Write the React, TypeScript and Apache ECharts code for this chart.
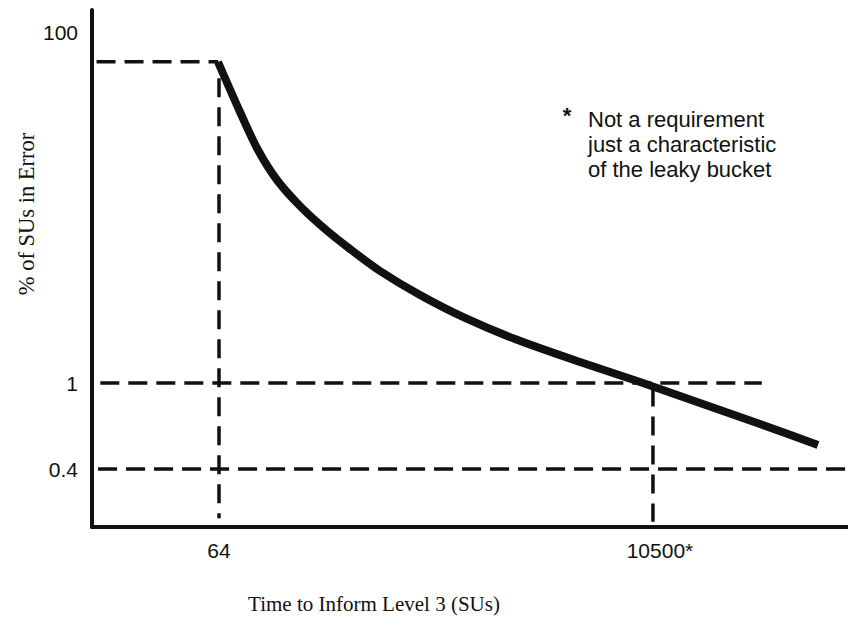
import React, { useEffect, useRef } from "react";
import * as echarts from "echarts";

// Schematic chart: both axes use a 0–100 position scale (share of the axis length)
const xTickPos = [16.8, 74.2];
const xTickLabels = ["64", "10500*"];
const yTickPos = [95.7, 27.85, 11.2];
const yTickLabels = ["100", "1", "0.4"];

// Leaky-bucket curve (position along axes)
const curveX = [16.67, 19.58, 21.96, 24.47, 27.51, 30.82, 34.13, 38.1, 43.39, 49.34, 55.95, 64.55, 72.49, 80.42, 88.36, 96.03];
const curveY = [89.94, 80.27, 72.92, 67.12, 62.09, 57.64, 53.77, 49.52, 44.87, 40.43, 36.36, 31.91, 28.05, 23.98, 19.92, 15.86];

// Dashed reference lines
const topDashX = [0.6, 16.7];
const topDashY = [90.0, 90.0];
const vDash64X = [16.8, 16.8];
const vDash64Y = [86.8, 1.7];
const hDash1X = [1.1, 88.6];
const hDash1Y = [27.85, 27.85];
const vDash10500X = [74.2, 74.2];
const vDash10500Y = [27.0, 1.0];
const hDash04X = [0.8, 100];
const hDash04Y = [11.2, 11.2];

const noteLines = ["Not a requirement", "just a characteristic", "of the leaky bucket"];

const INK = "#111";
const SANS = "'Liberation Sans', Arial, Helvetica, sans-serif";
const SERIF = "'Liberation Serif', 'Times New Roman', serif";

const pair = (xs: number[], ys: number[]) => xs.map((x, i) => [x, ys[i]]);

function labelFor(pos: number[], labels: string[], v: number) {
  let best = 0;
  let d = Infinity;
  pos.forEach((p, i) => {
    if (Math.abs(p - v) < d) {
      d = Math.abs(p - v);
      best = i;
    }
  });
  return labels[best];
}

const dashed = (xs: number[], ys: number[], dash: number[]) => ({
  type: "line",
  data: pair(xs, ys),
  showSymbol: false,
  symbol: "none",
  silent: true,
  lineStyle: { color: INK, width: 3.5, type: dash, cap: "butt" },
});

export default function App() {
  const ref = useRef<HTMLDivElement>(null);

  useEffect(() => {
    if (!ref.current) return;
    const chart = echarts.init(ref.current, undefined, { renderer: "svg" });
    chart.setOption({
      animation: false,
      backgroundColor: "#fff",
      grid: { left: 92, right: 0, top: 10, bottom: 94, containLabel: false, outerBoundsMode: "none" },
      xAxis: {
        type: "value",
        min: 0,
        max: 100,
        splitLine: { show: false },
        axisTick: { show: false },
        axisLine: { show: true, onZero: false, lineStyle: { color: INK, width: 4 } },
        axisLabel: {
          customValues: xTickPos,
          margin: 13,
          color: INK,
          fontFamily: SANS,
          fontSize: 21,
          formatter: (v: number) => {
            const t = labelFor(xTickPos, xTickLabels, v);
            return t.endsWith("*") ? "{pad|}" + t : t;
          },
          rich: { pad: { width: 14, fontSize: 21, fontFamily: SANS } },
        },
      },
      yAxis: {
        type: "value",
        min: 0,
        max: 100,
        splitLine: { show: false },
        axisTick: { show: false },
        axisLine: { show: true, onZero: false, lineStyle: { color: INK, width: 4 } },
        axisLabel: {
          customValues: yTickPos,
          margin: 14,
          color: INK,
          fontFamily: SANS,
          fontSize: 21,
          formatter: (v: number) => labelFor(yTickPos, yTickLabels, v),
        },
      },
      graphic: [
        {
          type: "text",
          x: 374,
          y: 604,
          style: {
            text: "Time to Inform Level 3 (SUs)",
            fill: INK,
            font: `21px ${SERIF}`,
            align: "center",
            verticalAlign: "middle",
          },
        },
        {
          type: "text",
          x: 26,
          y: 214,
          rotation: Math.PI / 2,
          style: {
            text: "% of SUs in Error",
            fill: INK,
            font: `22.5px ${SERIF}`,
            align: "center",
            verticalAlign: "middle",
          },
        },
        {
          type: "text",
          x: 567,
          y: 115,
          style: { text: "*", fill: INK, font: `bold 22px ${SANS}`, align: "center", verticalAlign: "middle" },
        },
        {
          type: "text",
          x: 588,
          y: 107,
          style: {
            text: noteLines.join("\n"),
            fill: INK,
            font: `22px ${SANS}`,
            lineHeight: 25,
            align: "left",
            verticalAlign: "top",
          },
        },
      ],
      series: [
        dashed(topDashX, topDashY, [19, 9]),
        dashed(vDash64X, vDash64Y, [19, 10]),
        dashed(hDash1X, hDash1Y, [19, 9]),
        dashed(vDash10500X, vDash10500Y, [19, 10]),
        dashed(hDash04X, hDash04Y, [19, 9]),
        {
          type: "line",
          data: pair(curveX, curveY),
          showSymbol: false,
          symbol: "none",
          smooth: 0.3,
          silent: true,
          lineStyle: { color: INK, width: 8, cap: "butt", join: "round" },
        },
      ],
    });
    return () => chart.dispose();
  }, []);

  return (
    <div
      ref={ref}
      style={{ position: "fixed", left: 0, top: 0, width: 848, height: 621, background: "#fff" }}
    />
  );
}
